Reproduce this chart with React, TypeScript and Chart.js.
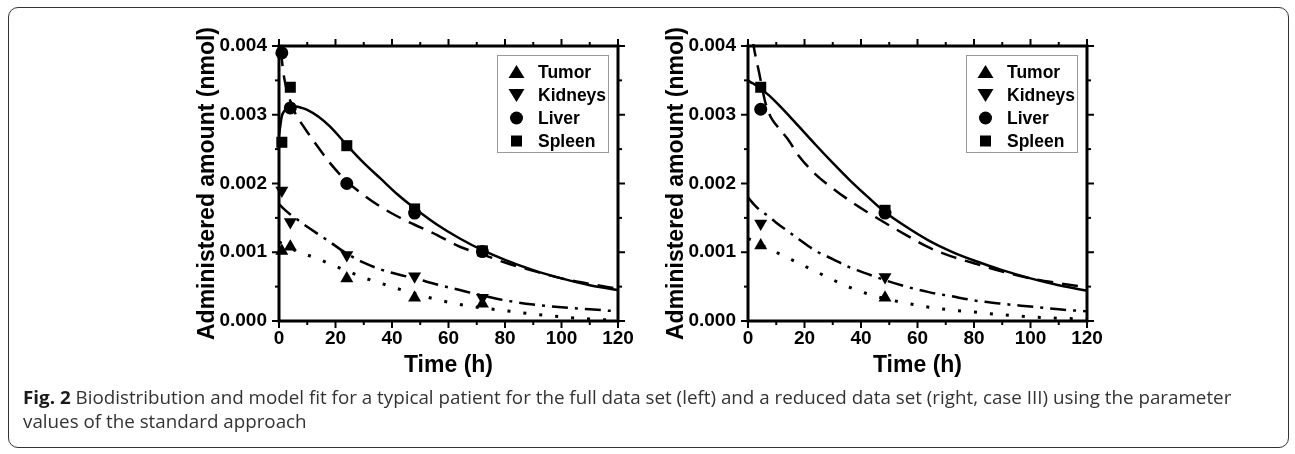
import React, { useEffect, useRef } from 'react';
import { Chart, registerables } from 'chart.js';

Chart.register(...registerables);

const FONT = "'Liberation Sans', Arial, Helvetica, sans-serif";
const CAPTION_FONT = "'Open Sans', 'Liberation Sans', Arial, sans-serif";

// ---------- Full data set (left panel) ----------
const sampleTimesFull = [1, 4, 24, 48, 72];
const tumorFull = [0.00102, 0.00108, 0.00062, 0.00034, 0.00025];
const kidneysFull = [0.0019, 0.00144, 0.00096, 0.00065, 0.00034];
const liverFull = [0.0039, 0.0031, 0.002, 0.00157, 0.00101];
const spleenFull = [0.0026, 0.0034, 0.00255, 0.00163, 0.00102];

// ---------- Reduced data set (right panel, case III) ----------
const sampleTimesReduced = [4.5, 48.5];
const tumorReduced = [0.0011, 0.00034];
const kidneysReduced = [0.00142, 0.00064];
const liverReduced = [0.00308, 0.00157];
const spleenReduced = [0.0034, 0.00161];

// ---------- Model fit curves ----------
const fitTimes = [0, 1, 2, 4, 6, 8, 10, 14, 18, 24, 30, 36, 42, 48, 56, 64, 72, 80, 90, 100, 110, 120];

const spleenFitFull = [0.0027, 0.00298, 0.00306, 0.00311, 0.00312, 0.0031, 0.00307, 0.00297, 0.00283, 0.00256, 0.0023, 0.00207, 0.00184, 0.00164, 0.0014, 0.0012, 0.00103, 0.00089, 0.00074, 0.00062, 0.00052, 0.00045];
const liverFitFull = [0.0043, 0.0038, 0.0035, 0.0032, 0.003, 0.00287, 0.00275, 0.00252, 0.0023, 0.00203, 0.00183, 0.00166, 0.00152, 0.0014, 0.00125, 0.00108, 0.00097, 0.00085, 0.00073, 0.00062, 0.00054, 0.00047];
const kidneysFitFull = [0.0017, 0.00166, 0.00162, 0.00155, 0.00149, 0.00143, 0.00137, 0.00126, 0.00115, 0.00098, 0.00085, 0.00075, 0.00068, 0.00062, 0.00053, 0.00045, 0.00037, 0.0003, 0.00024, 0.0002, 0.00017, 0.00014];
const tumorFitFull = [0.00115, 0.00113, 0.00111, 0.00107, 0.00102, 0.00099, 0.00096, 0.0009, 0.00083, 0.00073, 0.00063, 0.00055, 0.00047, 0.0004, 0.00031, 0.00024, 0.00019, 0.00015, 0.0001, 0.00006, 0.00003, 0.00001];

const spleenFitReduced = [0.0035, 0.00347, 0.00345, 0.0034, 0.00333, 0.00326, 0.00318, 0.00301, 0.00283, 0.00256, 0.0023, 0.00205, 0.00182, 0.0016, 0.00137, 0.00117, 0.00101, 0.00088, 0.00074, 0.00062, 0.00052, 0.00044];
const liverFitReduced = [0.0048, 0.0043, 0.004, 0.0036, 0.0032, 0.00297, 0.00285, 0.00265, 0.0024, 0.00213, 0.00193, 0.00175, 0.00159, 0.00144, 0.00125, 0.00107, 0.00094, 0.00084, 0.00072, 0.00062, 0.00055, 0.00049];
const kidneysFitReduced = [0.0018, 0.00175, 0.0017, 0.00162, 0.00156, 0.0015, 0.00143, 0.00131, 0.00119, 0.00102, 0.0009, 0.00078, 0.00069, 0.0006, 0.0005, 0.00042, 0.00036, 0.0003, 0.00025, 0.00021, 0.00017, 0.00014];
const tumorFitReduced = [0.0012, 0.00118, 0.00116, 0.00112, 0.00108, 0.00104, 0.001, 0.00092, 0.00084, 0.00072, 0.0006, 0.00049, 0.0004, 0.00033, 0.00026, 0.0002, 0.00016, 0.00013, 0.00009, 0.00006, 0.00004, 0.00003];

// ---------- Axes ----------
const xMin = 0;
const xMax = 120;
const xMajorStep = 20;
const xMinorStep = 10;
const yMin = 0;
const yMax = 0.004;
const yMajorStep = 0.001;
const yMinorStep = 0.0005;

const legendLabels = ['Tumor', 'Kidneys', 'Liver', 'Spleen'];
const xTitle = 'Time (h)';
const yTitle = 'Administered amount (nmol)';

const captionBold = 'Fig. 2';
const captionLine1 = ' Biodistribution and model fit for a typical patient for the full data set (left) and a reduced data set (right, case III) using the parameter';
const captionLine2 = 'values of the standard approach';

// ---------- Styles ----------
const markerStyles = [
  { pointStyle: 'triangle', rotation: 0, radius: 7.5 },
  { pointStyle: 'triangle', rotation: 180, radius: 7.5 },
  { pointStyle: 'circle', rotation: 0, radius: 6.5 },
  { pointStyle: 'rect', rotation: 0, radius: 7.8 },
];
const curveDashes = [[3, 13], [16, 7, 3, 7], [16, 9], []];
const curveWidths = [3, 2.5, 2.5, 2.5];

const CANVAS_W = 490;
const CANVAS_H = 390;
const AREA_LEFT = 129;
const AREA_TOP = 46;
const AREA_BOTTOM = 321;
const PAD_RIGHT = 22;

const framePlugin = {
  id: 'originFrame',
  afterDatasetsDraw(chart: any) {
    const { ctx, chartArea: a, scales } = chart;
    const xs = scales.x;
    const ys = scales.y;
    ctx.save();
    ctx.strokeStyle = '#000';
    ctx.lineWidth = 2;
    ctx.lineCap = 'butt';
    const seg = (x1: number, y1: number, x2: number, y2: number) => {
      ctx.beginPath();
      ctx.moveTo(x1, y1);
      ctx.lineTo(x2, y2);
      ctx.stroke();
    };
    const nx = Math.round((xMax - xMin) / xMinorStep);
    for (let i = 0; i <= nx; i++) {
      const v = xMin + i * xMinorStep;
      const px = xs.getPixelForValue(v);
      const major = Math.abs(v / xMajorStep - Math.round(v / xMajorStep)) < 1e-6;
      const len = major ? 7 : 4;
      seg(px, a.bottom, px, a.bottom + len);
      seg(px, a.top, px, a.top - len);
    }
    const ny = Math.round((yMax - yMin) / yMinorStep);
    for (let i = 0; i <= ny; i++) {
      const v = yMin + i * yMinorStep;
      const py = ys.getPixelForValue(v);
      const major = i % 2 === 0;
      const len = major ? 7 : 4;
      seg(a.left, py, a.left - len, py);
      seg(a.right, py, a.right + len, py);
    }
    ctx.lineWidth = 3;
    ctx.strokeRect(a.left, a.top, a.right - a.left, a.bottom - a.top);
    ctx.restore();
  },
};

const legendPlugin = {
  id: 'panelLegend',
  afterDraw(chart: any) {
    const { ctx, chartArea: a } = chart;
    const bx = a.right - 121;
    const by = a.top + 9;
    const bw = 111;
    const bh = 97;
    ctx.save();
    ctx.fillStyle = '#fff';
    ctx.fillRect(bx, by, bw, bh);
    ctx.strokeStyle = '#9a9a9a';
    ctx.lineWidth = 1;
    ctx.strokeRect(bx + 0.5, by + 0.5, bw, bh);
    ctx.fillStyle = '#000';
    ctx.font = `bold 17.5px ${FONT}`;
    ctx.textBaseline = 'middle';
    ctx.textAlign = 'left';
    legendLabels.forEach((label, i) => {
      const cy = by + 17 + i * 23;
      const cx = bx + 19.5;
      ctx.beginPath();
      if (i === 0) {
        ctx.moveTo(cx, cy - 7);
        ctx.lineTo(cx + 8, cy + 6);
        ctx.lineTo(cx - 8, cy + 6);
        ctx.closePath();
      } else if (i === 1) {
        ctx.moveTo(cx, cy + 7);
        ctx.lineTo(cx + 8, cy - 6);
        ctx.lineTo(cx - 8, cy - 6);
        ctx.closePath();
      } else if (i === 2) {
        ctx.arc(cx, cy, 6.5, 0, Math.PI * 2);
      } else {
        ctx.rect(cx - 5.5, cy - 5.5, 11, 11);
      }
      ctx.fill();
      ctx.fillText(label, bx + 41, cy + 1);
    });
    ctx.restore();
  },
};

function buildDatasets(times: number[], pts: number[][], fits: number[][]) {
  const ds: any[] = [];
  fits.forEach((vals, i) => {
    ds.push({
      data: fitTimes.map((t, k) => ({ x: t, y: vals[k] })),
      showLine: true,
      borderColor: '#000',
      backgroundColor: '#000',
      borderWidth: curveWidths[i],
      borderDash: curveDashes[i],
      pointRadius: 0,
      cubicInterpolationMode: 'monotone',
      clip: 2,
    });
  });
  pts.forEach((vals, i) => {
    const m = markerStyles[i];
    ds.push({
      data: times.map((t, k) => ({ x: t, y: vals[k] })),
      showLine: false,
      pointStyle: m.pointStyle,
      pointRotation: m.rotation,
      pointRadius: m.radius,
      pointBackgroundColor: '#000',
      pointBorderColor: '#000',
      pointBorderWidth: 0,
      clip: false,
    });
  });
  return ds;
}

function Panel(props: { left: number; top: number; times: number[]; pts: number[][]; fits: number[][] }) {
  const ref = useRef<HTMLCanvasElement>(null);
  useEffect(() => {
    const canvas = ref.current;
    if (!canvas) return;
    const tickFont = { family: FONT, size: 19, weight: 'bold' as const };
    const titleFont = { family: FONT, size: 23, weight: 'bold' as const };
    const chart = new Chart(canvas, {
      type: 'scatter',
      data: { datasets: buildDatasets(props.times, props.pts, props.fits) },
      options: {
        animation: false,
        responsive: false,
        devicePixelRatio: 1,
        events: [],
        layout: { padding: { top: AREA_TOP, right: PAD_RIGHT, left: 0, bottom: 0 } },
        plugins: {
          legend: { display: false },
          tooltip: { enabled: false },
        },
        scales: {
          x: {
            type: 'linear',
            position: 'bottom',
            min: xMin,
            max: xMax,
            grid: { display: false, drawTicks: false },
            border: { display: false },
            ticks: {
              stepSize: xMajorStep,
              autoSkip: false,
              maxRotation: 0,
              padding: 6,
              color: '#000',
              font: tickFont,
            },
            title: {
              display: true,
              text: xTitle,
              color: '#000',
              font: titleFont,
              padding: { top: 0, bottom: 11 },
            },
            afterFit: (s: any) => {
              s.height = CANVAS_H - AREA_BOTTOM;
            },
          },
          y: {
            type: 'linear',
            position: 'left',
            min: yMin,
            max: yMax,
            grid: { display: false, drawTicks: false },
            border: { display: false },
            ticks: {
              stepSize: yMajorStep,
              autoSkip: false,
              padding: 12,
              color: '#000',
              font: tickFont,
              callback: (v: any) => Number(v).toFixed(3),
            },
            title: {
              display: true,
              text: yTitle,
              color: '#000',
              font: titleFont,
              padding: { top: 44, bottom: 0 },
            },
            afterFit: (s: any) => {
              s.width = AREA_LEFT;
            },
          },
        },
      },
      plugins: [framePlugin, legendPlugin],
    } as any);
    return () => chart.destroy();
  }, []);
  return (
    <canvas
      ref={ref}
      width={CANVAS_W}
      height={CANVAS_H}
      style={{ position: 'absolute', left: props.left, top: props.top, width: CANVAS_W, height: CANVAS_H }}
    />
  );
}

function measureText(text: string, font: string) {
  const c = document.createElement('canvas').getContext('2d');
  if (!c) return text.length * 8;
  c.font = font;
  return c.measureText(text).width;
}

function Caption() {
  const size = 18.5;
  const wBold = measureText(captionBold, `bold ${size}px ${CAPTION_FONT}`);
  const wRest = measureText(captionLine1, `${size}px ${CAPTION_FONT}`);
  const sx = 1209 / (wBold + wRest);
  return (
    <svg width={1295} height={454} style={{ position: 'absolute', left: 0, top: 0, pointerEvents: 'none' }}>
      <g transform={`translate(23,0) scale(${sx},1)`} fontFamily={CAPTION_FONT} fontSize={size}>
        <text x={0} y={404.5} fill="#333" xmlSpace="preserve">
          <tspan fontWeight="bold" fill="#1a1a1a">{captionBold}</tspan>
          <tspan>{captionLine1}</tspan>
        </text>
        <text x={0} y={428} fill="#333">
          {captionLine2}
        </text>
      </g>
    </svg>
  );
}

export default function App() {
  return (
    <div style={{ position: 'absolute', left: 0, top: 0, width: 1295, height: 454, background: '#fff', overflow: 'hidden' }}>
      <div
        style={{
          position: 'absolute',
          left: 8,
          top: 7,
          width: 1281,
          height: 441,
          boxSizing: 'border-box',
          border: '1.5px solid #333',
          borderRadius: 10,
        }}
      />
      <Panel
        left={150}
        top={0}
        times={sampleTimesFull}
        pts={[tumorFull, kidneysFull, liverFull, spleenFull]}
        fits={[tumorFitFull, kidneysFitFull, liverFitFull, spleenFitFull]}
      />
      <Panel
        left={619}
        top={0}
        times={sampleTimesReduced}
        pts={[tumorReduced, kidneysReduced, liverReduced, spleenReduced]}
        fits={[tumorFitReduced, kidneysFitReduced, liverFitReduced, spleenFitReduced]}
      />
      <Caption />
    </div>
  );
}
